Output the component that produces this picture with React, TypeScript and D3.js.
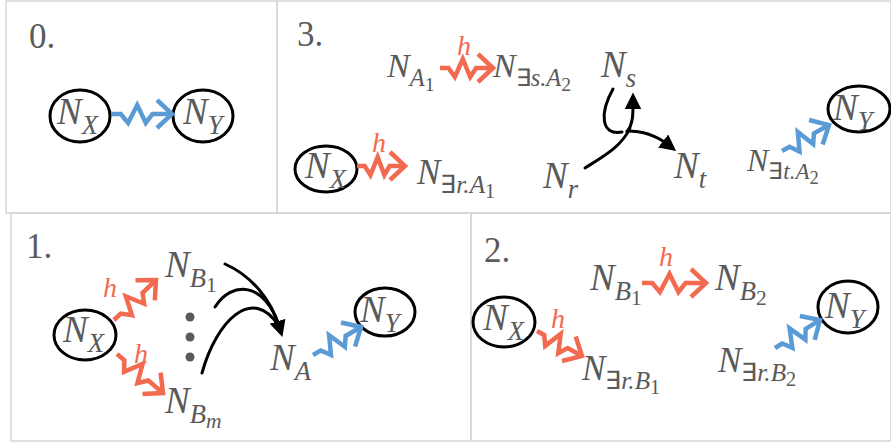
import React from "react";
import * as d3 from "d3";

const W = 891;
const H = 444;

const RED = "#F26A50";
const BLUE = "#5B9BD5";
const GRAY = "#5a5a5a";
const BORDER = "#d6d6d6";
const SERIF = '"Liberation Serif", "Times New Roman", serif';

const panelBoxes = [
  { x: 6, y: 1, w: 271, h: 212 },
  { x: 277, y: 1, w: 614, h: 212 },
  { x: 11, y: 213, w: 460, h: 228 },
  { x: 471, y: 213, w: 420, h: 228 },
];
const panelTitles = ["0.", "3.", "1.", "2."];
const titlePos = [
  [29, 48],
  [297, 46],
  [26, 258],
  [484, 262],
];

// ellipse nodes: cx, cy, rx, ry
const circles = [
  [80, 116, 30, 26],
  [203, 116, 30, 26],
  [326, 169, 31, 23],
  [859, 109, 31, 23],
  [85, 335, 31, 25],
  [385, 312, 30, 24],
  [504, 322, 31, 25],
  [848, 307, 30, 26],
];

// labels: x, y, subscript, sub-subscript, size
const labels: [number, number, string, string, number][] = [
  [57, 124, "X", "", 37],
  [183, 124, "Y", "", 37],
  [387, 77, "A", "1", 34],
  [493, 77, "∃s.A", "2", 34],
  [305, 178, "X", "", 37],
  [417, 184, "∃r.A", "1", 35],
  [543, 188, "r", "", 37],
  [601, 77, "s", "", 37],
  [674, 178, "t", "", 37],
  [747, 171, "∃t.A", "2", 32],
  [833, 120, "Y", "", 37],
  [63, 342, "X", "", 37],
  [165, 277, "B", "1", 37],
  [165, 413, "B", "m", 37],
  [270, 370, "A", "", 37],
  [360, 322, "Y", "", 37],
  [483, 330, "X", "", 37],
  [590, 290, "B", "1", 37],
  [715, 290, "B", "2", 37],
  [582, 380, "∃r.B", "1", 35],
  [718, 372, "∃r.B", "2", 35],
  [825, 318, "Y", "", 37],
];

const hLabels = [
  [457, 55],
  [372, 152],
  [103, 297],
  [134, 363],
  [551, 328],
  [659, 266],
];

// zigzag arrows: x1, y1, x2, y2, color
const bolts: [number, number, number, number, string][] = [
  [111, 114, 172, 114, BLUE],
  [440, 68, 493, 68, RED],
  [357, 166, 405, 166, RED],
  [782, 151, 829, 125, BLUE],
  [114, 320, 156, 280, RED],
  [117, 354, 163, 393, RED],
  [313, 355, 361, 327, BLUE],
  [537, 331, 582, 356, RED],
  [642, 283, 706, 283, RED],
  [775, 348, 820, 320, BLUE],
];

const dots = [
  [190, 317],
  [190, 337],
  [190, 357],
];

const curves: { pts: number[][]; arrow: boolean }[] = [
  { pts: [[225, 264], [252, 276], [271, 300], [279, 326]], arrow: true },
  { pts: [[215, 307], [232, 280], [265, 282], [279, 326]], arrow: false },
  { pts: [[202, 373], [216, 322], [252, 284], [279, 326]], arrow: false },
  { pts: [[613, 89], [600, 112], [600, 136], [622, 132]], arrow: false },
  { pts: [[585, 168], [604, 156], [622, 146], [630, 128]], arrow: false },
  { pts: [[627, 132], [633, 124], [633, 115], [633, 104]], arrow: true },
  { pts: [[627, 131], [645, 131], [658, 137], [667, 144]], arrow: true },
];

function boltPath(x1: number, y1: number, x2: number, y2: number) {
  const dx = x2 - x1;
  const dy = y2 - y1;
  const L = Math.hypot(dx, dy);
  const ux = dx / L;
  const uy = dy / L;
  const px = -uy;
  const py = ux;
  const amp = 9;
  const local = [
    [0, 0],
    [0.16, 0],
    [0.28, amp],
    [0.43, -amp],
    [0.57, amp],
    [0.68, 0],
    [1, 0],
  ];
  const pt = (t: number, o: number) => [x1 + ux * t * L + px * o, y1 + uy * t * L + py * o];
  const line = d3.line();
  const body = line(local.map(([t, o]) => pt(t, o) as [number, number]));
  const back = 15;
  const half = 14;
  const a = [x2 - ux * back + px * half, y2 - uy * back + py * half];
  const b = [x2 - ux * back - px * half, y2 - uy * back - py * half];
  const head = line([a as [number, number], [x2, y2], b as [number, number]]);
  return { body, head };
}

function Label({ d }: { d: [number, number, string, string, number] }) {
  const [x, y, sub, subsub, size] = d;
  const subSize = size * 0.72;
  const ssSize = size * 0.58;
  const hasE = sub.startsWith("∃");
  const rest = hasE ? sub.slice(1) : sub;
  return (
    <text x={x} y={y} style={{ fontFamily: SERIF, fontSize: size, fontStyle: "italic" }} fill={GRAY}>
      N
      {hasE ? (
        <tspan dy={size * 0.26} style={{ fontSize: subSize, fontStyle: "normal" }}>
          ∃
        </tspan>
      ) : null}
      <tspan dy={hasE ? 0 : size * 0.26} style={{ fontSize: subSize }}>
        {rest}
      </tspan>
      {subsub ? (
        <tspan dy={size * 0.14} style={{ fontSize: ssSize, fontStyle: /\d/.test(subsub) ? "normal" : "italic" }}>
          {subsub}
        </tspan>
      ) : null}
    </text>
  );
}

export default function App() {
  const curveLine = (pts: number[][]) =>
    `M${pts[0][0]},${pts[0][1]} C${pts[1][0]},${pts[1][1]} ${pts[2][0]},${pts[2][1]} ${pts[3][0]},${pts[3][1]}`;
  return (
    <svg
      width={W}
      height={H}
      viewBox={`0 0 ${W} ${H}`}
      style={{ position: "absolute", left: 0, top: 0, background: "#fff" }}
    >
      <defs>
        <marker
          id="tri"
          viewBox="0 0 10 10"
          refX="3"
          refY="5"
          markerWidth="5.5"
          markerHeight="5.5"
          orient="auto"
          markerUnits="strokeWidth"
        >
          <path d="M0,0 L10,5 L0,10 z" fill="#000" />
        </marker>
      </defs>
      <rect width={W} height={H} fill="#fff" />
      {panelBoxes.map((p, i) => (
        <rect key={i} x={p.x} y={p.y} width={p.w} height={p.h} fill="none" stroke={BORDER} strokeWidth={1.5} />
      ))}
      {panelTitles.map((t, i) => (
        <text key={i} x={titlePos[i][0]} y={titlePos[i][1]} style={{ fontFamily: SERIF, fontSize: 35 }} fill={GRAY}>
          {t}
        </text>
      ))}
      {circles.map(([cx, cy, rx, ry], i) => (
        <ellipse key={i} cx={cx} cy={cy} rx={rx} ry={ry} fill="none" stroke="#000" strokeWidth={3} />
      ))}
      {bolts.map(([x1, y1, x2, y2, c], i) => {
        const { body, head } = boltPath(x1, y1, x2, y2);
        return (
          <g key={i} stroke={c} strokeWidth={4.5} fill="none" strokeLinejoin="miter" strokeMiterlimit={6}>
            <path d={body || ""} />
            <path d={head || ""} />
          </g>
        );
      })}
      {curves.map((c, i) => (
        <path
          key={i}
          d={curveLine(c.pts)}
          fill="none"
          stroke="#000"
          strokeWidth={3}
          strokeLinecap="round"
          markerEnd={c.arrow ? "url(#tri)" : undefined}
        />
      ))}
      {dots.map(([x, y], i) => (
        <circle key={i} cx={x} cy={y} r={4.5} fill={GRAY} />
      ))}
      {labels.map((d, i) => (
        <Label key={i} d={d} />
      ))}
      {hLabels.map(([x, y], i) => (
        <text key={i} x={x} y={y} style={{ fontFamily: SERIF, fontSize: 28, fontStyle: "italic" }} fill={RED}>
          h
        </text>
      ))}
    </svg>
  );
}
